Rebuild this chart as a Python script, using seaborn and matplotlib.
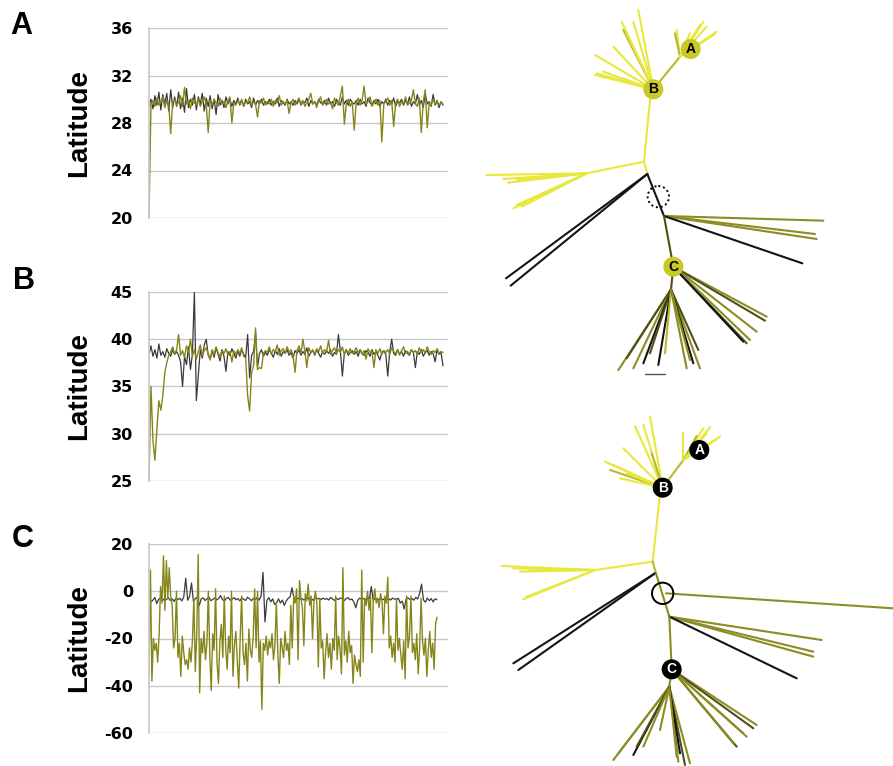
import numpy as np
import seaborn as sns
import matplotlib.pyplot as plt
from matplotlib.patches import Circle

# latitude traces (gray = reference track, olive = estimate)
a_gray = [29.4, 30.0, 29.2, 30.3, 29.5, 30.6, 29.1, 30.4, 29.6, 30.5, 29.0, 30.8, 29.3, 30.2, 29.4,
          30.6, 29.2, 30.1, 28.9, 30.9, 29.3, 30.0, 29.5, 30.4, 29.1, 30.2, 29.6, 30.5, 29.0, 30.1,
          29.4, 30.3, 29.2, 30.0, 28.7, 30.4, 29.5, 29.9, 29.3, 30.2, 29.6, 30.0, 29.4, 29.9, 29.6,
          30.1, 29.5, 29.9, 29.4, 30.0, 29.6, 29.8, 29.3, 30.1, 29.5, 29.9, 29.6, 30.0, 29.5, 29.8,
          29.6, 30.0, 29.5, 29.8, 29.6, 30.1, 29.4, 29.9, 29.7, 29.5, 30.0, 29.6, 29.8, 29.5, 29.9,
          29.6, 30.0, 29.5, 29.8, 29.7, 30.1, 29.4, 29.9, 29.6, 29.8, 29.5, 30.0, 29.7, 29.6, 29.9,
          29.5, 30.1, 29.6, 29.8, 29.4, 30.0, 29.7, 29.5, 30.2, 29.6, 29.9, 29.5, 30.0, 29.7, 29.6,
          29.9, 29.5, 30.0, 29.6, 29.8, 29.4, 30.1, 29.7, 29.5, 29.9, 29.6, 30.0, 29.4, 29.8, 29.6,
          30.0, 29.5, 29.9, 29.6, 30.1, 29.4, 29.8, 29.7, 30.0, 29.5, 29.9, 29.6, 30.2, 29.4, 29.8,
          29.6, 30.4, 29.5, 29.9, 29.3, 30.5, 29.6, 29.8, 29.4, 30.4, 29.5, 29.9, 29.3, 29.8, 29.5]
a_olive = [20.0, 29.6, 29.9, 29.4, 30.1, 29.5, 29.8, 30.2, 29.3, 29.9, 29.6, 27.1, 29.8, 30.0, 29.5,
           29.7, 30.3, 29.4, 31.0, 29.6, 29.9, 29.2, 30.1, 29.7, 29.5, 30.0, 29.4, 29.8, 30.2, 29.6,
           27.2, 29.9, 29.5, 30.0, 29.7, 29.4, 30.1, 29.6, 29.8, 29.3, 29.9, 30.2, 28.0, 29.7, 29.5,
           29.9, 29.6, 30.0, 29.4, 29.8, 29.7, 30.2, 29.5, 29.8, 29.6, 28.5, 29.9, 29.7, 30.1, 29.5,
           29.8, 29.6, 30.0, 29.4, 29.9, 29.7, 30.3, 29.5, 29.8, 29.6, 29.9, 28.8, 29.7, 30.0, 29.5,
           29.8, 30.1, 29.6, 29.9, 29.4, 29.7, 30.0, 30.5, 29.6, 29.8, 29.3, 29.9, 30.2, 29.5, 29.7,
           30.0, 29.6, 29.8, 29.2, 30.1, 29.7, 29.5, 30.3, 31.1, 27.9, 29.6, 30.0, 29.4, 29.8, 27.4,
           29.7, 30.1, 29.5, 29.9, 31.1, 29.6, 29.8, 30.2, 29.4, 29.7, 30.0, 29.5, 29.9, 26.4, 29.6,
           29.8, 30.1, 29.5, 29.9, 27.7, 29.7, 30.0, 29.4, 29.8, 29.6, 30.2, 29.5, 29.7, 29.9, 30.8,
           29.6, 29.4, 30.1, 27.2, 29.8, 30.8, 27.6, 29.7, 29.5, 30.0, 29.6, 29.8, 29.5, 29.7, 29.6]

b_gray = [38.4, 39.3, 38.2, 38.9, 38.0, 39.5, 38.3, 38.7, 38.1, 39.0, 38.5, 38.2, 38.9, 38.4, 38.7,
          38.3, 37.6, 35.0, 38.2, 37.3, 39.2, 36.8, 38.4, 45.0, 33.5, 36.2, 38.9, 38.0, 39.4, 40.0,
          38.3, 37.9, 38.8, 38.1, 39.1, 38.4, 37.7, 38.9, 38.2, 36.6, 38.7, 38.3, 39.0, 38.5, 38.0,
          38.8, 38.2, 38.9, 38.4, 38.1, 40.5, 35.9, 38.3, 38.7, 40.7, 37.0, 38.5, 38.9, 38.2, 38.6,
          38.3, 38.9, 38.5, 38.1, 38.8, 38.4, 39.0, 38.2, 38.7, 38.5, 38.9, 38.3, 38.6, 38.0, 38.8,
          38.5, 38.9, 38.3, 38.7, 38.4, 39.1, 38.2, 38.6, 38.8, 38.3, 38.9, 38.5, 38.1, 38.7, 38.4,
          38.8, 38.5, 38.9, 38.2, 38.6, 38.4, 40.5, 38.7, 36.1, 38.5, 38.9, 38.3, 38.6, 38.8, 38.4,
          38.7, 38.2, 38.9, 38.5, 38.3, 38.8, 38.6, 38.2, 38.9, 38.4, 38.7, 38.3, 37.8, 38.6, 38.8,
          38.4, 36.1, 38.7, 40.0, 38.5, 38.3, 38.9, 38.4, 38.7, 38.2, 38.8, 38.5, 38.3, 38.9, 38.6,
          37.0, 38.7, 38.4, 38.9, 38.2, 38.6, 38.8, 38.3, 38.7, 38.5, 37.6, 38.9, 38.4, 38.6, 37.2]
b_olive = [25.0, 35.0, 29.3, 27.2, 30.5, 33.5, 32.5, 34.0, 36.5, 37.5, 38.3, 38.7, 39.2, 38.4, 38.9,
           40.5, 38.3, 38.8, 38.1, 39.3, 38.6, 40.0, 38.2, 38.9, 37.9, 38.7, 39.4, 38.3, 38.8, 39.1,
           38.5, 37.8, 38.9, 38.4, 39.2, 38.6, 38.1, 38.9, 38.5, 39.0, 38.3, 38.7, 37.6, 38.8, 38.4,
           38.9, 38.5, 39.1, 38.2, 38.0, 34.0, 32.4, 36.5, 37.2, 41.2, 36.8, 37.0, 36.9, 38.5, 38.8,
           38.6, 39.2, 38.4, 38.9, 38.7, 39.4, 38.3, 38.8, 39.0, 38.5, 39.2, 38.6, 38.9, 38.3, 36.5,
           38.8, 39.3, 38.5, 40.0, 38.7, 37.0, 39.1, 38.6, 38.9, 38.4, 39.0, 38.7, 39.3, 38.5, 38.9,
           38.6, 39.9, 38.4, 38.8, 39.1, 38.5, 38.9, 38.6, 39.2, 38.4, 38.8, 38.6, 39.0, 38.5, 38.7,
           39.1, 38.6, 38.9, 38.4, 38.8, 37.9, 39.0, 38.6, 38.7, 37.0, 38.9, 38.5, 39.0, 38.4, 38.8,
           38.6, 38.9, 38.4, 39.1, 38.7, 38.5, 38.9, 38.3, 38.8, 39.2, 38.5, 38.7, 38.4, 38.9, 38.6,
           38.8, 38.4, 39.1, 38.6, 38.9, 38.5, 39.2, 38.7, 38.4, 38.8, 38.6, 39.0, 38.5, 38.7, 38.6]

c_gray = [-3.0, -4.5, -3.8, -2.6, -5.2, -3.4, -2.8, -4.0, -3.1, -3.6, -2.7, -3.9, -3.2, -4.3, -2.9,
          -3.5, -3.0, -4.1, -2.4, 5.5, -3.8, -2.2, 3.5, -4.4, -3.1, -2.6, -6.0, -3.3, -2.8, -3.9,
          -3.2, -2.5, -4.0, -3.4, -2.9, -3.7, -3.1, -1.8, -3.5, -4.2, -3.0, -2.6, -3.8, -3.3, -2.7,
          -3.6, -3.1, -4.1, -2.8, -3.4, -3.9, -2.5, -3.2, -4.0, -3.0, -3.5, -2.7, -3.8, -2.0, 8.0,
          -13.0, -3.8, -2.7, -4.5, -3.2, -5.6, -4.9, -3.2, -5.0, -3.7, -6.0, -4.1, -3.0, -2.4, 1.5,
          -3.1, -3.6, -2.9, -3.4, -3.0, -3.7, -3.2, -2.8, -3.5, -3.1, -3.9, -2.7, -3.3, -3.0, -3.6,
          -2.9, -3.4, -3.1, -3.7, -2.6, -3.3, -3.9, -3.0, -3.5, -2.8, -3.2, -4.0, -3.1, -2.7, -3.6,
          -3.3, -4.5, -7.0, -3.8, -2.9, -3.4, -3.1, -3.6, -2.5, -3.2, 2.0, -3.9, -3.0, -3.3, -3.5,
          -3.1, -3.6, -3.0, -3.4, -3.2, -3.7, -2.9, -3.3, -3.5, -3.0, -5.0, -4.2, -7.5, -3.4, -2.8,
          -3.5, -3.0, -3.8, -2.6, -3.3, -1.0, 3.0, -3.7, -4.6, -2.9, -4.0, -3.1, -4.5, -3.2, -3.6]
c_olive = [-35, 9, -38, -20, -25, -22, -30, -18, 2, -5, 15, -8, 13, -3, 10, -2, -6, -24, -20, 0,
           -28, -22, -36, -19, -26, -31, -29, -33, -24, -30, -21, -3, -34, -18, 15.6, -43, -20, -26, -17, -29,
           -22, 0, -27, -42, -18, -25, 1, -30, -39, -21, -14, -28, -2, -24, -33, -19, -26, 0, -36, -23,
           -17, -29, -41, -20, -2, -26, -31, -22, -38, -16, -25, -28, -19, 1, -24, 0, -30, -21, -50, -22,
           -25, -19, -27, -21, -24, -18, -29, -23, -5, -26, -39, -20, -24, -28, -17, -25, -22, -31, -6, -24,
           -2, -5, 1, -29, 4.5, -3, -7, -23, -1, -4, 3, -6, -2, -20, -4, 0, -5, -32, -3, -24,
           -21, -37, -26, -18, -28, -22, -33, -20, -25, -2, -29, -19, -24, -35, 10, -27, -21, -30, -17, -26,
           -23, -39, -27, -31, -34, -29, -36, 9, -30, -3, -6, 0, -8, -2, -26, -4, 1, -5, -3, -7,
           -1, -4, -18, -2, -5, 6, -24, -19, -28, -22, -30, -3, -25, -20, -27, -33, -21, -37, -2, -24,
           -19, -2, -26, -22, -29, -18, -35, -24, -3, -21, -27, -20, -36, -25, -17, -28, -22, -33, -14, -11]

a_ticks = [20, 24, 28, 32, 36]
b_ticks = [25, 30, 35, 40, 45]
c_ticks = [-60, -40, -20, 0, 20]

# unrooted trees: branches as (x0, y0, x1, y1, colour key) in layout units
tree1_edges = [
    (550, 268, 540, 300, 'Y'), (540, 300, 522, 485, 'Y'),
    (522, 485, 350, 520, 'Y'), (350, 520, 50, 525, 'Y'), (350, 520, 100, 537, 'Y'),
    (350, 520, 115, 548, 'Y'), (350, 520, 140, 540, 'Y'), (350, 520, 130, 625, 'Y'),
    (350, 520, 140, 615, 'Y'), (350, 520, 155, 620, 'Y'),
    (522, 485, 532, 522, 'Y'),
    (532, 522, 108, 835, 'K'), (532, 522, 122, 857, 'K'), (532, 522, 582, 648, 'K'),
    (582, 648, 1060, 662, 'O'), (582, 648, 1035, 702, 'O'), (582, 648, 1040, 717, 'O'),
    (582, 648, 997, 790, 'K'), (582, 648, 610, 800, 'D'),
    (610, 800, 603, 868, 'D'),
    (603, 868, 445, 1110, 'O'), (603, 868, 470, 1075, 'D'), (603, 868, 490, 1105, 'O'),
    (603, 868, 520, 1090, 'K'), (603, 868, 540, 1060, 'D'), (603, 868, 565, 1095, 'K'),
    (603, 868, 585, 1060, 'M'), (603, 868, 650, 1105, 'O'), (603, 868, 690, 1105, 'O'),
    (603, 868, 685, 1050, 'D'), (603, 868, 670, 1090, 'K'), (603, 868, 660, 1080, 'O'),
    (610, 800, 890, 950, 'O'), (610, 800, 885, 962, 'D'), (610, 800, 860, 995, 'O'),
    (610, 800, 830, 1030, 'D'), (610, 800, 840, 1020, 'O'), (610, 800, 820, 1025, 'K'),
    (550, 268, 505, 30, 'Y'), (550, 268, 490, 65, 'Y'), (550, 268, 455, 65, 'Y'),
    (550, 268, 460, 90, 'M'), (550, 268, 430, 140, 'Y'), (550, 268, 375, 165, 'Y'),
    (550, 268, 380, 220, 'Y'), (550, 268, 375, 225, 'Y'), (550, 268, 400, 215, 'Y'),
    (550, 268, 470, 100, 'Y'),
    (550, 268, 630, 170, 'M'),
    (630, 170, 620, 90, 'Y'), (630, 170, 615, 100, 'M'), (630, 170, 700, 65, 'Y'),
    (630, 170, 690, 75, 'Y'), (630, 170, 680, 95, 'Y'), (630, 170, 740, 95, 'Y'),
    (630, 170, 735, 102, 'Y'), (630, 170, 660, 100, 'Y'), (630, 170, 710, 80, 'Y'),
]
tree1_nodes = {'A': (662, 147), 'B': (550, 268), 'C': (610, 800)}
tree1_ring = (565, 590)

tree2_edges = [
    (578, 263, 568, 300, 'Y'), (568, 300, 548, 485, 'Y'),
    (548, 485, 375, 510, 'Y'), (375, 510, 95, 498, 'Y'), (375, 510, 130, 505, 'Y'),
    (375, 510, 150, 515, 'Y'), (375, 510, 180, 512, 'Y'), (375, 510, 160, 598, 'Y'),
    (375, 510, 170, 590, 'Y'),
    (548, 485, 558, 520, 'M'),
    (555, 520, 130, 790, 'K'), (555, 520, 145, 810, 'K'),
    (558, 520, 598, 650, 'O'), (588, 580, 1270, 625, 'O'),
    (598, 650, 1055, 720, 'O'), (598, 650, 1030, 755, 'O'), (598, 650, 1030, 770, 'O'),
    (598, 650, 980, 835, 'K'), (598, 650, 605, 808, 'O'),
    (605, 808, 860, 975, 'O'), (605, 808, 850, 985, 'D'), (605, 808, 830, 1010, 'O'),
    (605, 808, 800, 1040, 'D'), (605, 808, 790, 1030, 'O'), (605, 808, 820, 1000, 'O'),
    (605, 808, 598, 860, 'O'),
    (598, 860, 430, 1080, 'O'), (598, 860, 445, 1060, 'O'), (598, 860, 490, 1065, 'K'),
    (598, 860, 500, 1040, 'D'), (598, 860, 520, 1040, 'O'), (598, 860, 570, 990, 'O'),
    (598, 860, 625, 1085, 'O'), (598, 860, 645, 1095, 'D'), (598, 860, 660, 1090, 'O'),
    (598, 860, 630, 1060, 'K'), (598, 860, 620, 1070, 'O'),
    (578, 263, 540, 50, 'Y'), (578, 263, 520, 75, 'Y'), (578, 263, 495, 78, 'Y'),
    (578, 263, 545, 160, 'M'), (578, 263, 460, 145, 'Y'), (578, 263, 405, 185, 'Y'),
    (578, 263, 420, 210, 'M'), (578, 263, 450, 235, 'Y'), (578, 263, 430, 195, 'Y'),
    (578, 263, 470, 220, 'Y'),
    (578, 263, 640, 180, 'M'),
    (640, 180, 640, 100, 'Y'), (640, 180, 700, 85, 'Y'), (640, 180, 720, 82, 'Y'),
    (640, 180, 750, 110, 'Y'), (640, 180, 740, 118, 'Y'), (640, 180, 680, 108, 'M'),
    (640, 180, 710, 100, 'Y'),
]
tree2_nodes = {'A': (688, 150), 'B': (578, 263), 'C': (605, 808)}
tree2_ring = (578, 580)

GRAY = '#3a3a3a'
OLIVE = '#85851a'
TREE_COLORS = {'Y': '#e8e83c', 'M': '#b8b82e', 'O': '#8c8c24', 'D': '#4f4f16', 'K': '#141414'}

sns.set_theme(style='white')
plt.rcParams['font.family'] = ['Liberation Sans', 'DejaVu Sans']
plt.rcParams['axes.unicode_minus'] = False
plt.rcParams['text.color'] = 'black'

W, H = 893, 766
fig = plt.figure(figsize=(W / 100, H / 100), dpi=100)


def px_rect(x0, y0, x1, y1):
    return [x0 / W, 1 - y1 / H, (x1 - x0) / W, (y1 - y0) / H]


def draw_series(rect, gray, olive, ylim, ticks, span):
    ax = fig.add_axes(rect)
    for vals, col, lw in [(gray, GRAY, 0.9), (olive, OLIVE, 1.0)]:
        x = np.linspace(0, 1, len(vals))
        sns.lineplot(x=x, y=vals, ax=ax, color=col, linewidth=lw, estimator=None, sort=False)
    ax.set_xlim(0, span)
    ax.set_ylim(ylim)
    ax.set_yticks(ticks)
    ax.set_xticks([])
    ax.set_axisbelow(True)
    ax.yaxis.grid(True, color='#c8c8c8', lw=1)
    for s in ['top', 'right', 'bottom']:
        ax.spines[s].set_visible(False)
    ax.spines['left'].set_color('#c8c8c8')
    ax.tick_params(axis='y', length=0, pad=11.5, labelsize=11.5, labelcolor='black')
    for t in ax.get_yticklabels():
        t.set_fontweight('bold')
        t.set_family(['DejaVu Sans'])
    ax.set_ylabel('Latitude', fontsize=20, fontweight='bold', color='black')
    ax.yaxis.set_label_coords(-0.19, 0.5)
    return ax


draw_series(px_rect(149, 28, 448, 218), a_gray, a_olive, (20, 36), a_ticks, 299 / 294)
draw_series(px_rect(149, 292, 448, 481), b_gray, b_olive, (25, 45), b_ticks, 299 / 294)
draw_series(px_rect(149, 544, 448, 733), c_gray, c_olive, (-60, 20), c_ticks, 299 / 288)

for letter, (lx, ly) in zip('ABC', [(21, 26), (24, 281), (23, 539)]):
    fig.text(lx / W, 1 - ly / H, letter, ha='center', va='center', fontsize=22, fontweight='bold',
             color='black')


def draw_tree(rect, height, edges, nodes, ring, fill, text_col, ring_style):
    ax = fig.add_axes(rect)
    ax.set_xlim(0, 1269)
    ax.set_ylim(height, 0)
    ax.axis('off')
    for x0, y0, x1, y1, c in edges:
        ax.plot([x0, x1], [y0, y1], color=TREE_COLORS[c], lw=1.5, solid_capstyle='round')
    ax.add_patch(Circle(ring, 32, fill=False, ec='black', lw=1.4, ls=ring_style, zorder=4))
    for name, (nx, ny) in nodes.items():
        ax.add_patch(Circle((nx, ny), 30, fc=fill, ec='none', zorder=5))
        ax.text(nx, ny, name, ha='center', va='center', fontsize=10, fontweight='bold',
                color=text_col, zorder=6)
    return ax


ax1 = draw_tree(px_rect(470, 0, 893, 390), 1170, tree1_edges, tree1_nodes, tree1_ring,
                '#c8c828', 'black', (0, (1, 1.5)))
ax1.plot([525, 585], [1122, 1122], color='#555555', lw=1)
draw_tree(px_rect(470, 400, 893, 766), 1098, tree2_edges, tree2_nodes, tree2_ring,
          'black', 'white', '-')

fig.savefig('out.png', dpi=100)
